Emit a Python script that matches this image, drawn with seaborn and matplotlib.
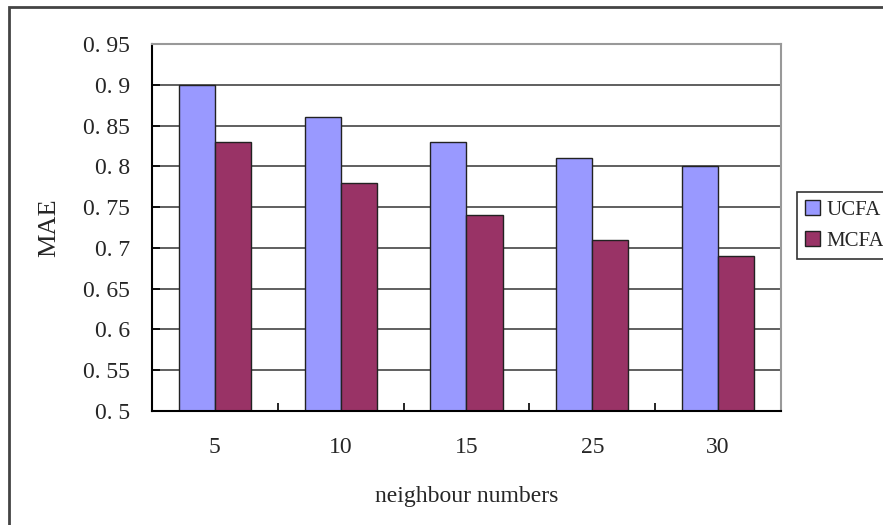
import matplotlib
matplotlib.use("Agg")
import matplotlib.pyplot as plt
import seaborn as sns
import pandas as pd
from matplotlib.patches import Rectangle

# Neighbourhood sizes and MAE for each method
neighbours = ["5", "10", "15", "25", "30"]
ucfa = [0.90, 0.86, 0.83, 0.81, 0.80]
mcfa = [0.83, 0.78, 0.74, 0.71, 0.69]
methods = ["UCFA", "MCFA"]
y_ticks = [0.5, 0.55, 0.6, 0.65, 0.7, 0.75, 0.8, 0.85, 0.9, 0.95]
y_tick_labels = ["0. 5", "0. 55", "0. 6", "0. 65", "0. 7", "0. 75",
                 "0. 8", "0. 85", "0. 9", "0. 95"]

df = pd.DataFrame({
    "neighbours": neighbours * 2,
    "MAE": ucfa + mcfa,
    "method": [methods[0]] * len(ucfa) + [methods[1]] * len(mcfa),
})

sns.set_style("white")
plt.rcParams["font.family"] = ["Liberation Serif", "DejaVu Serif"]

fig = plt.figure(figsize=(8.83, 5.25), dpi=100)
ax = fig.add_axes([152 / 883, 1 - 411 / 525, (781 - 152) / 883, (411 - 44) / 525])

sns.barplot(data=df, x="neighbours", y="MAE", hue="method", order=neighbours,
            hue_order=methods, palette=["#9999FF", "#993366"], saturation=1,
            width=0.573, gap=0, edgecolor="#222222", linewidth=1.0, ax=ax,
            legend=True)

ax.set_ylim(0.5, 0.95)
ax.set_xlim(-0.5, len(neighbours) - 0.5)
ax.set_yticks(y_ticks)
ax.set_yticklabels(y_tick_labels)
ax.yaxis.grid(True, color="#444444", linewidth=1.2)
ax.set_axisbelow(True)

ax.tick_params(axis="y", direction="in", length=6, width=1.2, color="black",
               labelsize=17, pad=16, left=True)
ax.tick_params(axis="x", which="major", length=0, labelsize=17, pad=19)
ax.set_xticks([i + 0.5 for i in range(len(neighbours) - 1)], minor=True)
ax.tick_params(axis="x", which="minor", direction="in", length=6, width=1.2,
               color="black", bottom=True)

for side in ["left", "bottom"]:
    ax.spines[side].set_color("black")
    ax.spines[side].set_linewidth(1.5)
for side in ["top", "right"]:
    ax.spines[side].set_visible(True)
    ax.spines[side].set_color("#999999")
    ax.spines[side].set_linewidth(1.5)

ax.set_xlabel("neighbour numbers", fontsize=17, labelpad=20)
ax.set_ylabel("MAE", fontsize=19, labelpad=16)

handles, labels = ax.get_legend_handles_labels()
ax.legend_.remove()
leg = fig.legend(handles, labels, loc="upper left",
                 bbox_to_anchor=(797 / 883, 1 - 192 / 525),
                 frameon=True, fancybox=False, fontsize=15,
                 handlelength=0.7, handleheight=0.7, handletextpad=0.3,
                 borderpad=0.4, labelspacing=0.55, borderaxespad=0)
leg.get_frame().set_edgecolor("black")
leg.get_frame().set_linewidth(1.2)

# Outer chart border
fig.patches.append(Rectangle((9 / 883, -0.05), 1.1, 1 - 7 / 525 + 0.05,
                             transform=fig.transFigure, fill=False,
                             edgecolor="#444444", linewidth=2.0))

fig.savefig("out.png", dpi=100)
